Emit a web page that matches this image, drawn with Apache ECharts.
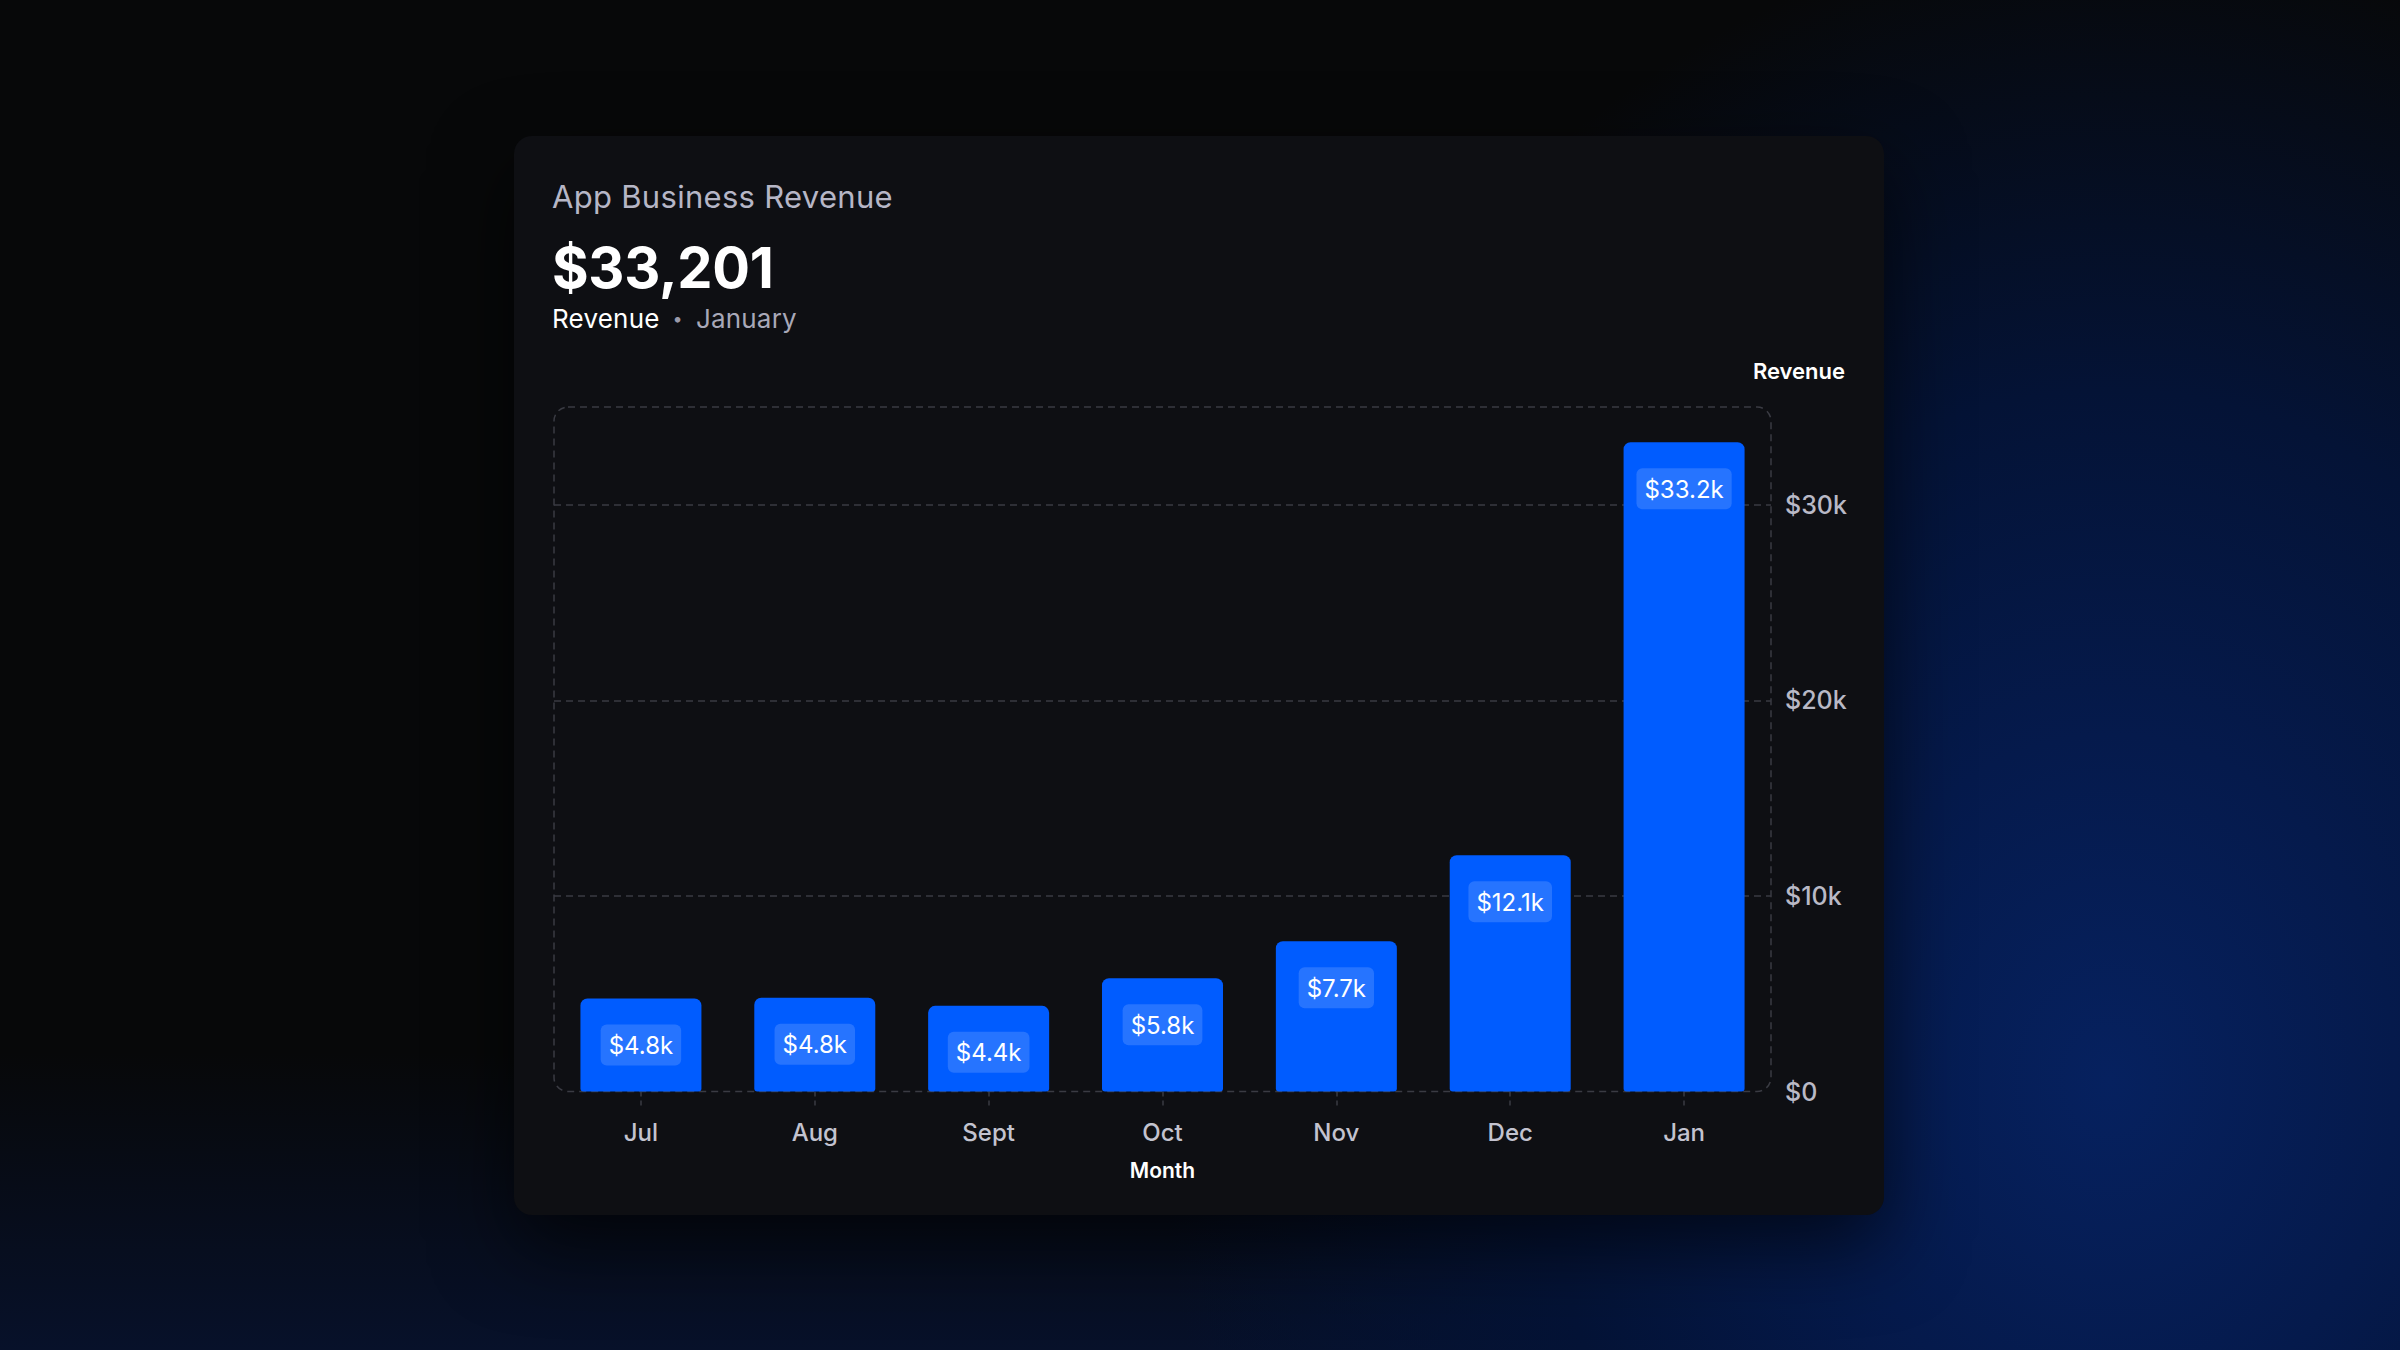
<!DOCTYPE html>
<html>
<head>
<meta charset="utf-8">
<script src="https://cdn.jsdelivr.net/npm/echarts@6/dist/echarts.min.js"></script>
<style>
  html, body { margin: 0; padding: 0; width: 2400px; height: 1350px; overflow: hidden; }
  body {
    font-family: Inter, "Noto Sans", sans-serif;
    background:
      radial-gradient(ellipse 950px 1150px at 2110px 1080px, #06215f 0%, #051a4c 30%, #041336 60%, rgba(7,8,10,0) 100%),
      linear-gradient(to bottom, rgba(7,8,10,0) 0%, rgba(7,8,10,0) 78%, #07112a 100%),
      #070809;
  }
  #card {
    position: absolute; left: 514px; top: 136px; width: 1370px; height: 1079px;
    background: #0e0f13; border-radius: 18px;
    box-shadow: 0 30px 80px rgba(0,0,0,0.65);
  }
  .t { position: absolute; left: 552px; white-space: nowrap; line-height: 1; }
  #title { top: 181px; font-size: 31px; color: #b6b6c6; font-weight: 400; letter-spacing: 0.3px; }
  #big { top: 240px; font-size: 56px; color: #ffffff; font-weight: 700; letter-spacing: -0.3px; }
  #sub { top: 306px; font-size: 26px; color: #ffffff; font-weight: 400; letter-spacing: 0.2px; }
  #sub .dot { color: #9a9aaa; font-size: 18px; margin: 0 13px 0 13px; position: relative; top: -3px; }
  #sub .mon { color: #a8a8b8; }
  #chart { position: absolute; left: 0; top: 0; width: 2400px; height: 1350px; }
</style>
</head>
<body>
<div id="card"></div>
<div class="t" id="title">App Business Revenue</div>
<div class="t" id="big"></div>
<div class="t" id="sub">Revenue<span class="dot">•</span><span class="mon">January</span></div>
<div id="chart"></div>
<script>
// ---- data ----
const months = ['Jul', 'Aug', 'Sept', 'Oct', 'Nov', 'Dec', 'Jan'];
const revenue = [4760, 4790, 4380, 5790, 7680, 12080, 33201];
const yTicks = [0, 10000, 20000, 30000];

// ---- header ----
document.getElementById('big').textContent = '$' + revenue[revenue.length - 1].toLocaleString('en-US');

// ---- layout ----
const G = { left: 554, right: 629, top: 407, bottom: 258.5 };
const W = 2400, H = 1350;
const gridW = W - G.left - G.right;
const gridH = H - G.top - G.bottom;
const dashColor = '#3a3b43';

const chart = echarts.init(document.getElementById('chart'), null, { renderer: 'svg', width: W, height: H });

function money(v) {
  if (v === 0) return '$0';
  return '$' + (v / 1000) + 'k';
}

chart.setOption({
  backgroundColor: 'transparent',
  animation: false,
  textStyle: { fontFamily: 'Inter' },
  grid: { left: G.left, right: G.right, top: G.top, bottom: G.bottom, containLabel: false, outerBoundsMode: 'none' },
  graphic: [
    {
      type: 'rect', z: 0, silent: true,
      shape: { x: G.left, y: G.top, width: gridW, height: gridH, r: 14 },
      style: { fill: 'none', stroke: dashColor, lineWidth: 1.5, lineDash: [7, 5] }
    },
    {
      type: 'text', z: 5, silent: true,
      x: 1845, y: 371,
      style: { text: 'Revenue', fill: '#ffffff', font: '600 22px Inter', textAlign: 'right', textVerticalAlign: 'middle' }
    }
  ],
  xAxis: {
    type: 'category',
    data: months,
    boundaryGap: true,
    axisLine: { show: false },
    axisTick: { show: true, alignWithLabel: true, length: 17, lineStyle: { color: dashColor, width: 1.5, type: [5, 4] } },
    axisLabel: { color: '#c3c3cf', fontSize: 24, fontWeight: 500, margin: 29, fontFamily: 'Inter' },
    name: 'Month',
    nameLocation: 'middle',
    nameGap: 68,
    nameTextStyle: { color: '#ffffff', fontSize: 21, fontWeight: 600, fontFamily: 'Inter' },
    splitLine: { show: false }
  },
  yAxis: {
    type: 'value',
    position: 'right',
    min: 0,
    max: 35000,
    interval: 10000,
    axisLine: { show: false },
    axisTick: { show: false },
    axisLabel: {
      color: '#b9b9c6', fontSize: 25, fontWeight: 500, margin: 14, fontFamily: 'Inter',
      showMaxLabel: false,
      formatter: v => (yTicks.indexOf(v) >= 0 ? money(v) : '')
    },
    splitLine: { show: true, showMinLine: false, showMaxLine: false, lineStyle: { color: dashColor, width: 1.5, type: [7, 5] } }
  },
  series: [{
    type: 'bar',
    data: revenue,
    barWidth: 121,
    itemStyle: { color: '#005cff', borderRadius: [7, 7, 3, 3] },
    label: {
      show: true,
      position: 'insideTop',
      distance: 26,
      formatter: p => '$' + (p.value / 1000).toFixed(1) + 'k',
      color: '#ffffff',
      fontSize: 24,
      fontWeight: 400,
      fontFamily: 'Inter',
      backgroundColor: 'rgba(255,255,255,0.15)',
      borderRadius: 6,
      padding: [9, 8, 8, 8]
    }
  }]
});
</script>
</body>
</html>
